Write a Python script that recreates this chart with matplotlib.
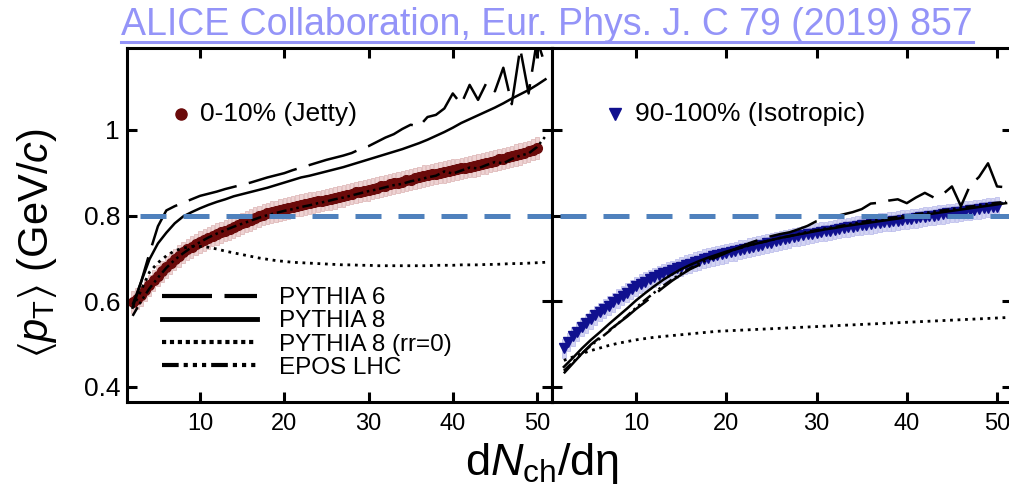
import matplotlib
matplotlib.use("Agg")
import matplotlib.pyplot as plt
from matplotlib.lines import Line2D

plt.rcParams['font.family'] = ['Liberation Sans', 'DejaVu Sans']
plt.rcParams['mathtext.fontset'] = 'custom'
plt.rcParams['mathtext.rm'] = 'Liberation Sans'
plt.rcParams['mathtext.it'] = 'Liberation Sans:italic'
plt.rcParams['mathtext.bf'] = 'Liberation Sans:bold'
plt.rcParams['mathtext.fallback'] = 'stixsans'

# ---- datos: <pT> vs dNch/deta ----
# datos medidos cada 0.5 en dNch/deta, modelos cada 1
x_data = [2 + 0.5 * i for i in range(97)]
x_model = list(range(2, 52))

# 0-10% (Jetty)
jetty = [0.598, 0.606, 0.615, 0.626, 0.637, 0.649, 0.660, 0.670, 0.680, 0.689,
         0.698, 0.706, 0.714, 0.721, 0.727, 0.733, 0.738, 0.743, 0.748, 0.753,
         0.757, 0.761, 0.765, 0.769, 0.773, 0.778, 0.782, 0.786, 0.790, 0.794,
         0.798, 0.802, 0.805, 0.808, 0.810, 0.813, 0.815, 0.818, 0.820, 0.823,
         0.825, 0.827, 0.829, 0.831, 0.833, 0.835, 0.837, 0.839, 0.841, 0.844,
         0.846, 0.849, 0.851, 0.854, 0.856, 0.858, 0.860, 0.863, 0.865, 0.868,
         0.870, 0.873, 0.875, 0.877, 0.879, 0.882, 0.884, 0.887, 0.889, 0.892,
         0.894, 0.896, 0.898, 0.900, 0.902, 0.904, 0.906, 0.908, 0.910, 0.912,
         0.914, 0.916, 0.918, 0.921, 0.923, 0.926, 0.928, 0.931, 0.933, 0.936,
         0.938, 0.941, 0.944, 0.947, 0.950, 0.954, 0.958]
jetty_sys = 0.025

jetty_py6 = [0.592, 0.645, 0.712, 0.775, 0.812, 0.822, 0.830, 0.838, 0.846, 0.851,
             0.856, 0.862, 0.867, 0.872, 0.877, 0.883, 0.889, 0.894, 0.899, 0.906,
             0.912, 0.918, 0.924, 0.930, 0.935, 0.940, 0.946, 0.955, 0.962, 0.972,
             0.982, 0.990, 1.002, 1.012, 1.008, 1.030, 1.035, 1.050, 1.085, 1.060,
             1.105, 1.070, 1.110, 1.090, 1.145, 1.060, 1.190, 1.085, 1.210, 1.150]
jetty_py8 = [0.585, 0.645, 0.698, 0.735, 0.760, 0.782, 0.798, 0.808, 0.817, 0.825,
             0.832, 0.838, 0.845, 0.850, 0.855, 0.860, 0.865, 0.871, 0.877, 0.883,
             0.889, 0.893, 0.898, 0.903, 0.908, 0.913, 0.919, 0.925, 0.931, 0.937,
             0.943, 0.949, 0.955, 0.962, 0.969, 0.977, 0.986, 0.995, 1.005, 1.016,
             1.025, 1.034, 1.043, 1.052, 1.062, 1.073, 1.083, 1.093, 1.105, 1.118]
jetty_rr0 = [0.585, 0.625, 0.668, 0.690, 0.706, 0.718, 0.724, 0.728, 0.728, 0.726,
             0.722, 0.717, 0.713, 0.709, 0.705, 0.701, 0.698, 0.695, 0.693, 0.691,
             0.690, 0.689, 0.688, 0.687, 0.686, 0.685, 0.685, 0.684, 0.684, 0.683,
             0.683, 0.683, 0.683, 0.683, 0.683, 0.683, 0.684, 0.684, 0.684, 0.685,
             0.685, 0.685, 0.686, 0.686, 0.687, 0.688, 0.688, 0.689, 0.690, 0.691]
jetty_epos = [0.566, 0.600, 0.630, 0.655, 0.678, 0.697, 0.712, 0.726, 0.738, 0.749,
              0.758, 0.766, 0.774, 0.781, 0.788, 0.795, 0.801, 0.806, 0.811, 0.815,
              0.820, 0.824, 0.829, 0.833, 0.838, 0.842, 0.847, 0.852, 0.857, 0.861,
              0.866, 0.871, 0.874, 0.880, 0.884, 0.889, 0.893, 0.903, 0.898, 0.905,
              0.912, 0.910, 0.918, 0.925, 0.922, 0.932, 0.940, 0.945, 0.960, 0.985]

# 90-100% (Isotropic)
iso = [0.490, 0.505, 0.518, 0.529, 0.540, 0.549, 0.558, 0.567, 0.575, 0.583,
       0.590, 0.598, 0.606, 0.613, 0.620, 0.628, 0.635, 0.641, 0.646, 0.651,
       0.656, 0.661, 0.665, 0.669, 0.673, 0.677, 0.681, 0.685, 0.688, 0.692,
       0.695, 0.699, 0.702, 0.705, 0.707, 0.710, 0.712, 0.715, 0.717, 0.720,
       0.722, 0.725, 0.727, 0.730, 0.732, 0.735, 0.737, 0.740, 0.742, 0.745,
       0.747, 0.750, 0.752, 0.754, 0.756, 0.758, 0.760, 0.762, 0.763, 0.765,
       0.767, 0.769, 0.771, 0.773, 0.774, 0.776, 0.777, 0.779, 0.780, 0.782,
       0.783, 0.785, 0.786, 0.787, 0.788, 0.790, 0.791, 0.793, 0.794, 0.796,
       0.797, 0.799, 0.800, 0.802, 0.803, 0.805, 0.806, 0.808, 0.809, 0.811,
       0.812, 0.814, 0.815, 0.817, 0.818, 0.820, 0.821]
iso_sys = 0.022

iso_py6 = [0.432, 0.455, 0.478, 0.499, 0.516, 0.532, 0.548, 0.564, 0.582, 0.598,
           0.615, 0.632, 0.648, 0.662, 0.675, 0.685, 0.695, 0.704, 0.713, 0.722,
           0.731, 0.739, 0.746, 0.752, 0.757, 0.761, 0.768, 0.776, 0.787, 0.793,
           0.798, 0.803, 0.808, 0.815, 0.828, 0.830, 0.835, 0.838, 0.829, 0.842,
           0.853, 0.842, 0.850, 0.868, 0.822, 0.870, 0.890, 0.922, 0.868, 0.866]
iso_py8 = [0.447, 0.468, 0.490, 0.510, 0.528, 0.547, 0.565, 0.583, 0.602, 0.619,
           0.635, 0.650, 0.663, 0.675, 0.685, 0.694, 0.702, 0.709, 0.716, 0.722,
           0.728, 0.733, 0.738, 0.743, 0.748, 0.752, 0.756, 0.760, 0.764, 0.768,
           0.771, 0.775, 0.778, 0.781, 0.784, 0.787, 0.790, 0.793, 0.796, 0.799,
           0.802, 0.805, 0.808, 0.811, 0.814, 0.817, 0.820, 0.823, 0.826, 0.829]
iso_rr0 = [0.462, 0.470, 0.478, 0.485, 0.491, 0.497, 0.502, 0.506, 0.510, 0.513,
           0.516, 0.518, 0.520, 0.522, 0.524, 0.526, 0.528, 0.530, 0.531, 0.532,
           0.533, 0.534, 0.535, 0.536, 0.537, 0.538, 0.539, 0.540, 0.541, 0.542,
           0.543, 0.544, 0.545, 0.546, 0.547, 0.548, 0.549, 0.550, 0.551, 0.552,
           0.553, 0.554, 0.555, 0.556, 0.557, 0.558, 0.559, 0.560, 0.561, 0.562]
iso_epos = [0.438, 0.458, 0.478, 0.497, 0.513, 0.530, 0.548, 0.566, 0.585, 0.603,
            0.620, 0.636, 0.651, 0.665, 0.677, 0.688, 0.698, 0.706, 0.714, 0.721,
            0.727, 0.733, 0.738, 0.743, 0.748, 0.752, 0.757, 0.762, 0.766, 0.770,
            0.773, 0.777, 0.781, 0.785, 0.788, 0.791, 0.794, 0.797, 0.800, 0.803,
            0.806, 0.809, 0.812, 0.815, 0.818, 0.821, 0.824, 0.827, 0.830, 0.832]

x_ticks = [10, 20, 30, 40, 50]
y_ticks = [0.4, 0.6, 0.8, 1.0]
y_ticklabels = ["0.4", "0.6", "0.8", "1"]
ref_line = 0.8

model_names = ["PYTHIA 6", "PYTHIA 8", "PYTHIA 8 (rr=0)", "EPOS LHC"]

# estilos de las curvas de modelos
sty_py6 = dict(color='black', lw=1.8, ls=(0, (20, 5)))
sty_py8 = dict(color='black', lw=1.8, ls='-')
sty_rr0 = dict(color='black', lw=2.0, ls=(0, (1, 1.7)))
sty_epos = dict(color='black', lw=1.8, ls=(0, (4, 1.5, 1, 1.5, 1, 1.5)))

fig = plt.figure(figsize=(10.09, 4.90), dpi=100)
ax1 = fig.add_axes([0.1259, 0.1796, 0.4212, 0.7224])
ax2 = fig.add_axes([0.5471, 0.1796, 0.4559, 0.7224])


def panel(ax, y, sys, box_face, box_edge, marker, mcolor, models, xlim, dash_off):
    # cajas de sistematicos, puntos, modelos y la linea de referencia
    ax.bar(x_data, [2 * sys] * len(y), bottom=[v - sys for v in y], width=0.4,
           color=box_face, edgecolor=box_edge, linewidth=0.5, zorder=1)
    ax.plot(x_data, y, ls='none', marker=marker, ms=7, color=mcolor, zorder=2)
    for vals, sty in zip(models, [sty_py6, sty_py8, sty_rr0, sty_epos]):
        ax.plot(x_model, vals, zorder=3, **sty)
    ax.axhline(ref_line, color='#4f81bd', lw=3.6, ls=(dash_off, (5.2, 3.4)), zorder=5)
    ax.set_xlim(*xlim)
    ax.set_ylim(0.365, 1.191)
    ax.set_xticks(x_ticks)
    ax.set_yticks(y_ticks)
    ax.tick_params(direction='in', length=7, width=2.2, top=True, right=True,
                   labelsize=17)
    ax.tick_params(axis='x', pad=8)
    ax.tick_params(axis='y', labelsize=19, pad=5)
    for s in ax.spines.values():
        s.set_linewidth(2.2)


panel(ax1, jetty, jetty_sys, '#eed3d3', '#dcb2b2', 'o', '#6b0a0a',
      [jetty_py6, jetty_py8, jetty_rr0, jetty_epos], (1.335, 51.78), 6)
panel(ax2, iso, iso_sys, '#d3d4f3', '#b6b8ea', 'v', '#10108f',
      [iso_py6, iso_py8, iso_rr0, iso_epos], (0.69, 51.66), 7)

ax1.set_yticklabels(y_ticklabels)
ax2.set_yticklabels([])

# etiquetas de las clases
ax1.plot([0.127], [0.8136], 'o', ms=8, color='#6b0a0a', transform=ax1.transAxes,
         clip_on=False)
ax1.text(0.172, 0.8136, "0-10% (Jetty)", transform=ax1.transAxes, fontsize=19,
         va='center', ha='left')
ax2.plot([0.137], [0.8136], 'v', ms=8, color='#10108f', transform=ax2.transAxes,
         clip_on=False)
ax2.text(0.180, 0.8136, "90-100% (Isotropic)", transform=ax2.transAxes, fontsize=19,
         va='center', ha='left')

# leyenda de los modelos
handles = [Line2D([], [], color='black', lw=3, ls=(0, (12, 3))),
           Line2D([], [], color='black', lw=3.5, ls='-'),
           Line2D([], [], color='black', lw=3, ls=(0, (1, 0.9))),
           Line2D([], [], color='black', lw=3, ls=(0, (4, 1.2, 1, 1.2, 1, 1.2, 1, 1.2)))]
ax1.legend(handles, model_names, loc='center left', bbox_to_anchor=(0.082, 0.195),
           frameon=False, fontsize=17.5, handlelength=3.9, handletextpad=0.9,
           labelspacing=0.05, borderpad=0, borderaxespad=0)

fig.text(37 / 1009, 1 - 243 / 490, r"$\langle p_{\mathrm{T}}\rangle$ (GeV/$c$)",
         rotation=90, fontsize=30, ha='center', va='center')
fig.text(542 / 1009, 15 / 490, r"d$N_{\mathrm{ch}}$/dη", fontsize=32.5,
         ha='center', va='baseline')

title = fig.text(547 / 1009, 1 - 35 / 490,
                 "ALICE Collaboration, Eur. Phys. J. C 79 (2019) 857",
                 fontsize=27, color='#9494f8', ha='center', va='baseline')
fig.canvas.draw()
bb = title.get_window_extent()
fig.add_artist(Line2D([bb.x0, bb.x1], [490 - 42, 490 - 42], transform=None,
                      color='#9494f8', lw=2.2))

fig.savefig("out.png", dpi=100)
